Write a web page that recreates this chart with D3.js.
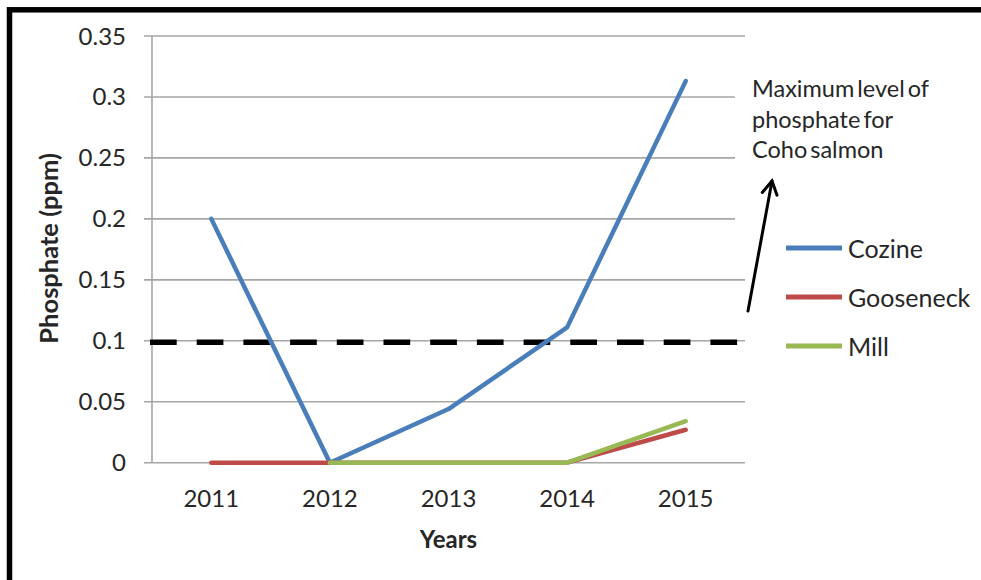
<!DOCTYPE html>
<html>
<head>
<meta charset="utf-8">
<script src="https://cdn.jsdelivr.net/npm/d3@7"></script>
<style>
  html, body { margin: 0; padding: 0; background: #fff; }
  svg { display: block; }
  text { font-family: Lato, "Open Sans", sans-serif; fill: #262626; }
</style>
</head>
<body>
<svg id="chart" width="981" height="580"></svg>
<script>
// Phosphate readings (ppm) by sampling year
const years = ["2011", "2012", "2013", "2014", "2015"];
const cozine = [0.2, 0, 0.044, 0.111, 0.313];
const gooseneck = [0, 0, 0, 0, 0.027];
const mill = [null, 0, 0, 0, 0.034];
const seriesNames = ["Cozine", "Gooseneck", "Mill"];
const seriesColors = ["#4a7ebb", "#be4b48", "#98b954"];
const yTicks = [0, 0.05, 0.1, 0.15, 0.2, 0.25, 0.3, 0.35];
const yTickLabels = ["0", "0.05", "0.1", "0.15", "0.2", "0.25", "0.3", "0.35"];
const threshold = 0.1;
const noteLines = ["Maximum level of", "phosphate for", "Coho salmon"];

const series = [cozine, gooseneck, mill].map((vals, i) => ({
  name: seriesNames[i], color: seriesColors[i], values: vals
}));

const svg = d3.select("#chart");
const plot = { left: 152, right: 745, top: 36, bottom: 462.7 };

const x = d3.scalePoint().domain(years).range([plot.left, plot.right]).padding(0.5);
const y = d3.scaleLinear().domain([0, 0.35]).range([plot.bottom, plot.top]);

// Outer frame (top and left edges show inside the view)
svg.append("rect")
  .attr("x", 9.5).attr("y", 9.8)
  .attr("width", 1200).attr("height", 900)
  .attr("fill", "none").attr("stroke", "#000").attr("stroke-width", 5.5);

// Horizontal gridlines with left tick stubs
svg.append("g").selectAll("line").data(yTicks).join("line")
  .attr("x1", plot.left - 8).attr("x2", plot.right)
  .attr("y1", d => y(d)).attr("y2", d => y(d))
  .attr("stroke", "#a6a6a6").attr("stroke-width", 1.6);

// Vertical value axis line
svg.append("line")
  .attr("x1", plot.left).attr("x2", plot.left)
  .attr("y1", y(0.35)).attr("y2", y(0))
  .attr("stroke", "#a6a6a6").attr("stroke-width", 1.6);

// Y tick labels
svg.append("g").selectAll("text").data(yTicks).join("text")
  .attr("x", 126).attr("y", d => y(d) + 8.5)
  .attr("text-anchor", "end")
  .attr("font-size", 24)
  .text((d, i) => yTickLabels[i]);

// X category labels
svg.append("g").selectAll("text").data(years).join("text")
  .attr("x", d => x(d)).attr("y", 507)
  .attr("text-anchor", "middle")
  .attr("font-size", 24)
  .text(d => d);

// Axis titles
svg.append("text")
  .attr("transform", `translate(58,${(plot.top + plot.bottom) / 2 - 1}) rotate(-90)`)
  .attr("text-anchor", "middle")
  .attr("font-size", 25.5).attr("font-weight", "bold")
  .text("Phosphate (ppm)");

svg.append("text")
  .attr("x", (plot.left + plot.right) / 2).attr("y", 548)
  .attr("text-anchor", "middle")
  .attr("font-size", 24).attr("font-weight", "bold")
  .text("Years");

// Threshold line for Coho salmon
svg.append("line")
  .attr("x1", 150).attr("x2", plot.right)
  .attr("y1", y(threshold) + 1.5).attr("y2", y(threshold) + 1.5)
  .attr("stroke", "#000").attr("stroke-width", 5.5)
  .attr("stroke-dasharray", "26.7 20");

// Series lines
const line = d3.line()
  .defined(d => d.v !== null)
  .x(d => x(d.year)).y(d => y(d.v));

svg.append("g").selectAll("path").data(series).join("path")
  .attr("d", s => line(s.values.map((v, i) => ({ year: years[i], v }))))
  .attr("fill", "none")
  .attr("stroke", s => s.color)
  .attr("stroke-width", 4.5)
  .attr("stroke-linejoin", "round")
  .attr("stroke-linecap", "round");

// Annotation text box
svg.append("rect")
  .attr("x", 735).attr("y", 60).attr("width", 230).attr("height", 175)
  .attr("fill", "#fff");

svg.append("g").selectAll("text").data(noteLines).join("text")
  .attr("x", 752).attr("y", (d, i) => 97 + i * 30.5)
  .attr("font-size", 23.5)
  .attr("word-spacing", -3)
  .text(d => d);

// Arrow pointing up to the note
const tail = [748, 311], tip = [772, 181];
const ang = Math.atan2(tail[1] - tip[1], tail[0] - tip[0]);
const wing = 15, spread = Math.PI / 6;
const arrow = svg.append("g").attr("stroke", "#000").attr("stroke-width", 3)
  .attr("fill", "none").attr("stroke-linecap", "round");
arrow.append("line").attr("x1", tail[0]).attr("y1", tail[1]).attr("x2", tip[0]).attr("y2", tip[1]);
arrow.append("path").attr("d",
  `M${tip[0] + wing * Math.cos(ang - spread)},${tip[1] + wing * Math.sin(ang - spread)}` +
  `L${tip[0]},${tip[1]}` +
  `L${tip[0] + wing * Math.cos(ang + spread)},${tip[1] + wing * Math.sin(ang + spread)}`);

// Legend
const legend = svg.append("g").selectAll("g").data(series).join("g")
  .attr("transform", (d, i) => `translate(786,${248 + i * 49})`);
legend.append("line")
  .attr("x1", 0).attr("x2", 56).attr("y1", 0).attr("y2", 0)
  .attr("stroke", d => d.color).attr("stroke-width", 5);
legend.append("text")
  .attr("x", 62).attr("y", 9.5)
  .attr("font-size", 25)
  .text(d => d.name);
</script>
</body>
</html>
